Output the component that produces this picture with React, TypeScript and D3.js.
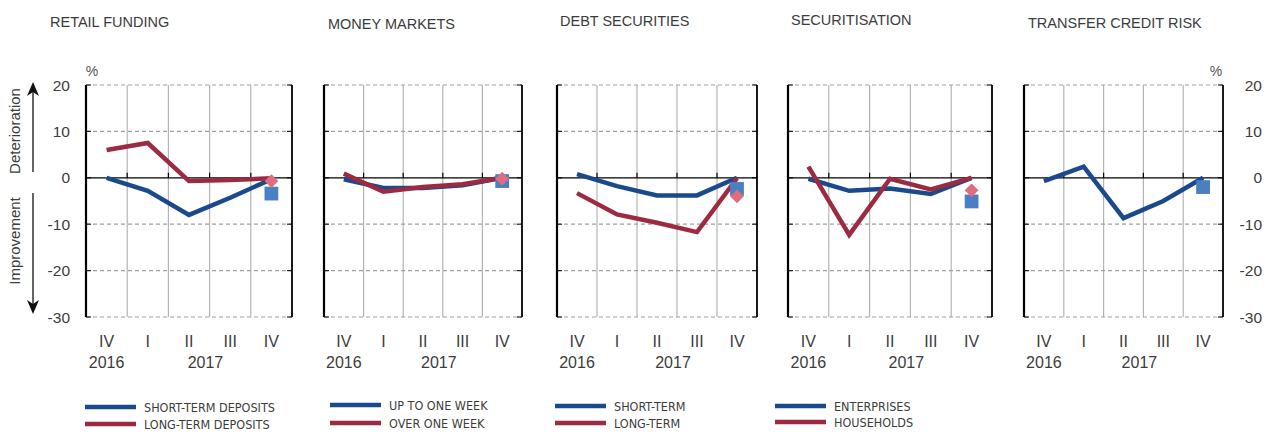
import React, { useEffect, useRef } from 'react';
import * as d3 from 'd3';

// data
const quarters = ['IV', 'I', 'II', 'III', 'IV'];
const years = ['2016', '2017'];
const titles = ['RETAIL FUNDING', 'MONEY MARKETS', 'DEBT SECURITIES', 'SECURITISATION', 'TRANSFER CREDIT RISK'];
const yTicks = [20, 10, 0, -10, -20, -30];

const retailShort = [0, -2.8, -8.0, -4.3, -0.3];
const retailLong = [6.0, 7.5, -0.7, -0.5, -0.1];
const moneyShort = [-0.3, -2.2, -2.2, -1.6, 0];
const moneyLong = [0.9, -3.0, -2.0, -1.4, 0];
const debtShort = [0.8, -1.8, -3.8, -3.8, 0];
const debtLong = [-3.3, -7.9, -9.7, -11.7, -0.1];
const secEnterprises = [-0.2, -2.8, -2.3, -3.5, 0];
const secHouseholds = [2.4, -12.3, -0.2, -2.5, 0];
const transferRisk = [-0.7, 2.4, -8.7, -5.0, 0];

// expectations for next quarter (square = blue series, diamond = red series)
const expectBlue = [-3.4, -0.7, -2.4, -5.1, -2.0];
const expectRed: (number | null)[] = [-0.7, -0.2, -4.0, -2.7, null];

const legends = [
  ['SHORT-TERM DEPOSITS', 'LONG-TERM DEPOSITS'],
  ['UP TO ONE WEEK', 'OVER ONE WEEK'],
  ['SHORT-TERM', 'LONG-TERM'],
  ['ENTERPRISES', 'HOUSEHOLDS'],
];

const blueSeries = [retailShort, moneyShort, debtShort, secEnterprises, transferRisk];
const redSeries: (number[] | null)[] = [retailLong, moneyLong, debtLong, secHouseholds, null];

// layout
const W = 1266;
const H = 432;
const panelLeft = [86, 324, 557, 788, 1024];
const panelRight = [292, 522, 757, 992, 1223];
const plotTop = 85;
const plotBottom = 317;
const titleX = [50, 328, 560, 791, 1028];
const titleY = [27, 29, 26, 25, 28];
const legendLineX = [85, 330, 555, 775];
const legendRowY = [[407, 424], [405, 423], [406, 423], [406, 422]];

const BLUE = '#1b4a8c';
const RED = '#9c2a40';
const SQUARE = '#4a7fc2';
const DIAMOND = '#df6c7f';
const TEXT = '#3c3c3c';
const FONT = '"Liberation Sans", Arial, sans-serif';
const NARROW = '"Liberation Sans Narrow", "Arial Narrow", "DejaVu Sans Condensed", sans-serif';

const drawPanel = (svg: any, i: number) => {
  const x = d3.scaleBand<number>()
    .domain(d3.range(quarters.length))
    .range([panelLeft[i], panelRight[i]]);
  const y = d3.scaleLinear().domain([-30, 20]).range([plotBottom, plotTop]);
  const cx = (k: number) => (x(k) as number) + x.bandwidth() / 2;
  const g = svg.append('g');

  // title
  g.append('text')
    .attr('x', titleX[i])
    .attr('y', titleY[i])
    .attr('fill', TEXT)
    .style('font-family', FONT)
    .style('font-size', '14.5px')
    .text(titles[i]);

  // vertical grid
  g.selectAll('.vg')
    .data(d3.range(1, quarters.length))
    .enter()
    .append('line')
    .attr('x1', (k: number) => x(k))
    .attr('x2', (k: number) => x(k))
    .attr('y1', plotTop)
    .attr('y2', plotBottom)
    .attr('stroke', '#b4b4b4')
    .attr('stroke-width', 1.2);

  // horizontal dashed grid
  g.selectAll('.hg')
    .data(yTicks.filter((t) => t !== 0))
    .enter()
    .append('line')
    .attr('x1', panelLeft[i])
    .attr('x2', panelRight[i])
    .attr('y1', (t: number) => y(t))
    .attr('y2', (t: number) => y(t))
    .attr('stroke', '#a0a0a0')
    .attr('stroke-width', 1.2)
    .attr('stroke-dasharray', '4,3');

  // small ticks on both edges
  yTicks.forEach((t) => {
    g.append('line')
      .attr('x1', panelLeft[i]).attr('x2', panelLeft[i] + 5)
      .attr('y1', y(t)).attr('y2', y(t))
      .attr('stroke', '#222').attr('stroke-width', 1.2);
    g.append('line')
      .attr('x1', panelRight[i] - 5).attr('x2', panelRight[i])
      .attr('y1', y(t)).attr('y2', y(t))
      .attr('stroke', '#222').attr('stroke-width', 1.2);
  });

  // zero line with ticks at quarter boundaries
  g.append('line')
    .attr('x1', panelLeft[i])
    .attr('x2', panelRight[i])
    .attr('y1', y(0))
    .attr('y2', y(0))
    .attr('stroke', '#000')
    .attr('stroke-width', 1.2);
  d3.range(1, quarters.length).forEach((k) => {
    g.append('line')
      .attr('x1', x(k)).attr('x2', x(k))
      .attr('y1', y(0) - 5).attr('y2', y(0))
      .attr('stroke', '#000').attr('stroke-width', 1.2);
  });

  // frame sides
  g.append('line')
    .attr('x1', panelLeft[i]).attr('x2', panelLeft[i])
    .attr('y1', plotTop).attr('y2', plotBottom)
    .attr('stroke', '#000').attr('stroke-width', 2.2);
  g.append('line')
    .attr('x1', panelRight[i]).attr('x2', panelRight[i])
    .attr('y1', plotTop).attr('y2', plotBottom)
    .attr('stroke', '#000').attr('stroke-width', 1.8);

  // series lines
  const line = d3.line<number>()
    .x((_d, k) => cx(k))
    .y((d) => y(d));
  g.append('path')
    .attr('d', line(blueSeries[i]))
    .attr('fill', 'none')
    .attr('stroke', BLUE)
    .attr('stroke-width', 4.5)
    .attr('stroke-linejoin', 'miter');
  const red = redSeries[i];
  if (red) {
    g.append('path')
      .attr('d', line(red))
      .attr('fill', 'none')
      .attr('stroke', RED)
      .attr('stroke-width', 4.5)
      .attr('stroke-linejoin', 'miter');
  }

  // expectation markers
  const last = quarters.length - 1;
  g.append('path')
    .attr('d', d3.symbol(d3.symbolSquare, 190)())
    .attr('transform', `translate(${cx(last)},${y(expectBlue[i])})`)
    .attr('fill', SQUARE);
  const er = expectRed[i];
  if (er !== null) {
    g.append('path')
      .attr('d', d3.symbol(d3.symbolSquare, 95)())
      .attr('transform', `translate(${cx(last)},${y(er)}) rotate(45)`)
      .attr('fill', DIAMOND);
  }

  // x labels
  g.selectAll('.xl')
    .data(quarters)
    .enter()
    .append('text')
    .attr('x', (_d: string, k: number) => cx(k))
    .attr('y', 347)
    .attr('text-anchor', 'middle')
    .attr('fill', TEXT)
    .style('font-family', FONT)
    .style('font-size', '16px')
    .text((d: string) => d);
  g.append('text')
    .attr('x', cx(0))
    .attr('y', 368)
    .attr('text-anchor', 'middle')
    .attr('fill', TEXT)
    .style('font-family', FONT)
    .style('font-size', '16px')
    .text(years[0]);
  g.append('text')
    .attr('x', cx(2) + x.bandwidth() * 0.4)
    .attr('y', 368)
    .attr('text-anchor', 'middle')
    .attr('fill', TEXT)
    .style('font-family', FONT)
    .style('font-size', '16px')
    .text(years[1]);

  return y;
};

// y axis numbers and % sign
const drawYLabels = (svg: any, y: any, xPos: number, anchor: string, pctX: number) => {
  svg.selectAll(null)
    .data(yTicks)
    .enter()
    .append('text')
    .attr('x', xPos)
    .attr('y', (t: number) => y(t))
    .attr('dy', '0.36em')
    .attr('text-anchor', anchor)
    .attr('fill', TEXT)
    .style('font-family', FONT)
    .style('font-size', '15.5px')
    .text((t: number) => `${t}`);
  svg.append('text')
    .attr('x', pctX)
    .attr('y', 76)
    .attr('text-anchor', 'middle')
    .attr('fill', '#555')
    .style('font-family', FONT)
    .style('font-size', '14px')
    .text('%');
};

// Deterioration / Improvement arrows
const drawArrows = (svg: any) => {
  const ax = 33;
  svg.append('line')
    .attr('x1', ax).attr('x2', ax).attr('y1', 172).attr('y2', 92)
    .attr('stroke', '#111').attr('stroke-width', 1.3);
  svg.append('path')
    .attr('d', `M${ax},82 L${ax - 6},96 L${ax},92 L${ax + 6},96 Z`)
    .attr('fill', '#111');
  svg.append('line')
    .attr('x1', ax).attr('x2', ax).attr('y1', 193).attr('y2', 304)
    .attr('stroke', '#111').attr('stroke-width', 1.3);
  svg.append('path')
    .attr('d', `M${ax},314 L${ax - 6},300 L${ax},304 L${ax + 6},300 Z`)
    .attr('fill', '#111');
  [['Deterioration', 131], ['Improvement', 241]].forEach(([label, cy]) => {
    svg.append('text')
      .attr('transform', `translate(20,${cy}) rotate(-90)`)
      .attr('text-anchor', 'middle')
      .attr('fill', TEXT)
      .style('font-family', FONT)
      .style('font-size', '15px')
      .text(label as string);
  });
};

const drawLegends = (svg: any) => {
  legends.forEach((pair, i) => {
    pair.forEach((label, r) => {
      const ly = legendRowY[i][r];
      svg.append('line')
        .attr('x1', legendLineX[i])
        .attr('x2', legendLineX[i] + 51)
        .attr('y1', ly)
        .attr('y2', ly)
        .attr('stroke', r === 0 ? BLUE : RED)
        .attr('stroke-width', 4.5);
      svg.append('text')
        .attr('x', legendLineX[i] + 59)
        .attr('y', ly)
        .attr('dy', '0.36em')
        .attr('fill', TEXT)
        .style('font-family', NARROW)
        .style('font-size', '12.5px')
        .text(label);
    });
  });
};

const App = () => {
  const ref = useRef<SVGSVGElement | null>(null);

  useEffect(() => {
    const svg = d3.select(ref.current);
    svg.selectAll('*').remove();
    let yFirst: any = null;
    let yLast: any = null;
    titles.forEach((_t, i) => {
      const y = drawPanel(svg, i);
      if (i === 0) yFirst = y;
      yLast = y;
    });
    drawYLabels(svg, yFirst, 70, 'end', 92);
    drawYLabels(svg, yLast, 1262, 'end', 1216);
    drawArrows(svg);
    drawLegends(svg);
  }, []);

  return (
    <svg
      ref={ref}
      width={W}
      height={H}
      style={{ position: 'absolute', left: 0, top: 0, background: '#fff' }}
    />
  );
};

export default App;
